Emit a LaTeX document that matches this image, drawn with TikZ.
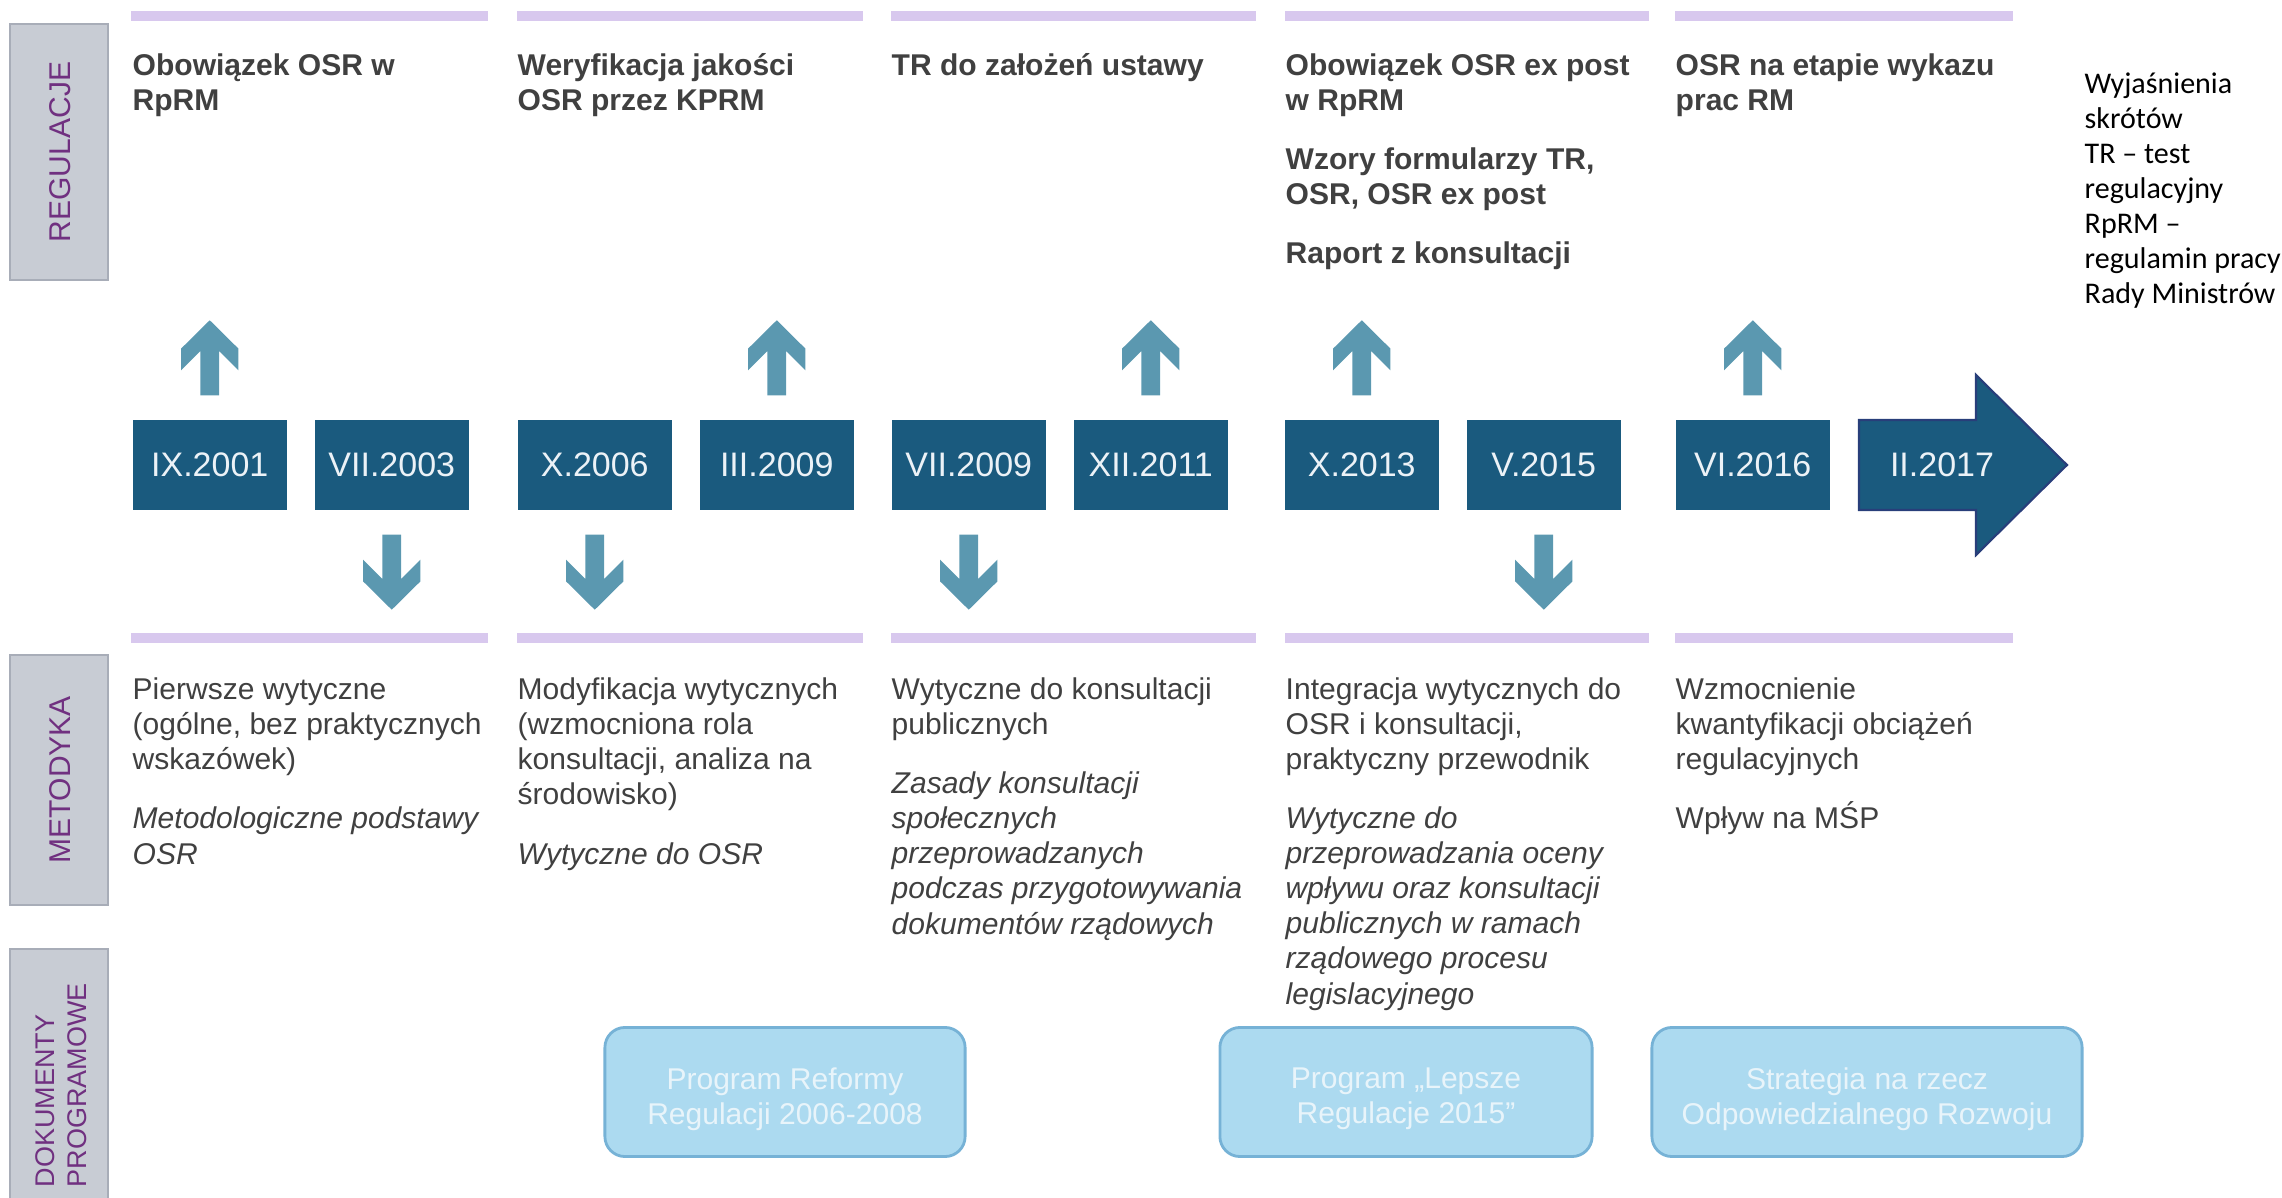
\documentclass[tikz,border=0pt]{standalone}
\usepackage{fontspec}
\setmainfont{Liberation Sans}
\newfontfamily\legendfont{Carlito}
\usepackage{tikz}
\definecolor{osrnavy}{RGB}{26,90,126}
\definecolor{osrdeep}{RGB}{40,62,122}
\definecolor{osrteal}{RGB}{91,152,176}
\definecolor{osrlilac}{RGB}{216,200,238}
\definecolor{osrgray}{RGB}{64,64,64}
\definecolor{osrlabel}{RGB}{200,204,212}
\definecolor{osrlabeledge}{RGB}{168,173,184}
\definecolor{osrpurple}{RGB}{112,48,128}
\definecolor{osrsky}{RGB}{172,218,240}
\definecolor{osrskyedge}{RGB}{118,178,214}
\definecolor{osrpale}{RGB}{232,244,250}
\definecolor{osrwhite}{RGB}{236,242,247}

\tikzset{
  labelbox/.style={fill=osrlabel, draw=osrlabeledge, line width=0.6pt},
  labeltext/.style={rotate=90, inner sep=0pt, text=osrpurple, font=\fontsize{8.54}{9.96}\selectfont},
  datebox/.style={fill=osrnavy, text=osrwhite, minimum width=1.54cm, minimum height=0.9cm, inner sep=0pt, font=\fontsize{9.67}{11}\selectfont},
  toptext/.style={anchor=base west, align=left, inner sep=0pt, text=osrgray, font=\fontsize{8.54}{9.96}\selectfont\bfseries},
  bottext/.style={anchor=base west, align=left, inner sep=0pt, text=osrgray, font=\fontsize{8.54}{9.96}\selectfont},
  progbox/.style={fill=osrsky, draw=osrskyedge, line width=0.8pt, rounded corners=0.2cm, minimum height=1.29cm, inner sep=0pt},
  progtext/.style={inner sep=0pt, align=center, text=osrpale, font=\fontsize{8.54}{9.96}\selectfont},
  uparr/.pic={\fill[osrteal] (-9.3,0) -- (-9.3,-44.3) -- (-28.6,-25) -- (-28.6,-46.7) -- (0,-75) -- (28.6,-46.7) -- (28.6,-25) -- (9.3,-44.3) -- (9.3,0) -- cycle;},
  downarr/.pic={\fill[osrteal] (-9.3,0) -- (-9.3,44.3) -- (-28.6,25) -- (-28.6,46.7) -- (0,75) -- (28.6,46.7) -- (28.6,25) -- (9.3,44.3) -- (9.3,0) -- cycle;}
}

\begin{document}
\begin{tikzpicture}[x=0.01cm, y=-0.01cm]
\useasboundingbox (0,0) rectangle (2282,1198);

% Row labels
\draw[labelbox] (10,24) rectangle (108,280);
\draw[labelbox] (10,655) rectangle (108,905);
\draw[labelbox] (10,949) rectangle (108,1215);
\node[labeltext] (reg) at (60,152) {REGULACJE};
\node[labeltext] (met) at (60,780) {METODYKA};
\node[labeltext, anchor=west, align=left, font=\fontsize{7.68}{9.1}\selectfont] (dok) at (61,1188) {DOKUMENTY\\PROGRAMOWE};

% Column bars
\foreach \a/\b in {131/488, 517/863, 891/1256, 1285/1649, 1675/2013} {
    \fill[osrlilac] (\a,11) rectangle (\b,21);
    \fill[osrlilac] (\a,633) rectangle (\b,643);
}

% Regulations (base = last line)
\node[toptext] (t1) at (132,111) {Obowiązek OSR w\\RpRM};
\node[toptext] (t2) at (517,111) {Weryfikacja jakości\\OSR przez KPRM};
\node[toptext] (t3) at (891,76) {TR do założeń ustawy};
\node[toptext] (t4) at (1285,264) {Obowiązek OSR ex post\\w RpRM\\[0.24cm]Wzory formularzy TR,\\OSR, OSR ex post\\[0.24cm]Raport z konsultacji};
\node[toptext] (t5) at (1675,111) {OSR na etapie wykazu\\prac RM};

% Timeline
\foreach \x/\d [count=\i] in {132/IX.2001, 314/VII.2003, 517/X.2006, 699/III.2009, 891/VII.2009, 1073/XII.2011, 1284/X.2013, 1466/V.2015, 1675/VI.2016}
    \node[datebox, anchor=west] (d\i) at (\x,465) {\d};
\fill[osrnavy, draw=osrdeep, line width=0.6pt] (1859,420) -- (1976,420) -- (1976,375) -- (2067,465) -- (1976,555) -- (1976,510) -- (1859,510) -- cycle;
\node[datebox, fill=none, minimum width=0pt] (d10) at (1942,465) {II.2017};

% Up and down markers
\foreach \i in {1,4,6,7,9}
    \path (d\i.north) ++(0,-24) pic {uparr};
\foreach \i in {2,3,5,8}
    \path (d\i.south) ++(0,24) pic {downarr};

% Methodology (base = last line)
\node[bottext] (m1) at (132,864) {Pierwsze wytyczne\\(ogólne, bez praktycznych\\wskazówek)\\[0.24cm]\textit{Metodologiczne podstawy}\\\textit{OSR}};
\node[bottext] (m2) at (517,864) {Modyfikacja wytycznych\\(wzmocniona rola\\konsultacji, analiza na\\środowisko)\\[0.24cm]\textit{Wytyczne do OSR}};
\node[bottext] (m3) at (891,934) {Wytyczne do konsultacji\\publicznych\\[0.24cm]\textit{Zasady konsultacji}\\\textit{społecznych}\\\textit{przeprowadzanych}\\\textit{podczas przygotowywania}\\\textit{dokumentów rządowych}};
\node[bottext] (m4) at (1285,1004) {Integracja wytycznych do\\OSR i konsultacji,\\praktyczny przewodnik\\[0.24cm]\textit{Wytyczne do}\\\textit{przeprowadzania oceny}\\\textit{wpływu oraz konsultacji}\\\textit{publicznych w ramach}\\\textit{rządowego procesu}\\\textit{legislacyjnego}};
\node[bottext] (m5) at (1675,829) {Wzmocnienie\\kwantyfikacji obciążeń\\regulacyjnych\\[0.24cm]Wpływ na MŚP};

% Programme documents
\node[progbox, minimum width=3.6cm] (p1) at (785,1092) {};
\node[progbox, minimum width=3.72cm] (p2) at (1406,1092) {};
\node[progbox, minimum width=4.3cm] (p3) at (1867,1092) {};
\node[progtext] (p1t) at ([yshift=-0.07cm]p1.center) {Program Reformy\\Regulacji 2006-2008};
\node[progtext] (p2t) at ([yshift=-0.07cm]p2.center) {Program „Lepsze\\Regulacje 2015"};
\node[progtext] (p3t) at ([yshift=-0.07cm]p3.center) {Strategia na rzecz\\Odpowiedzialnego Rozwoju};

% Legend
\node[anchor=base west, align=left, inner sep=0pt, font=\legendfont\fontsize{8.54}{9.96}\selectfont] (leg) at (2084,304) {Wyjaśnienia\\skrótów\\TR – test\\regulacyjny\\RpRM –\\regulamin pracy\\Rady Ministrów};
\end{tikzpicture}
\end{document}
